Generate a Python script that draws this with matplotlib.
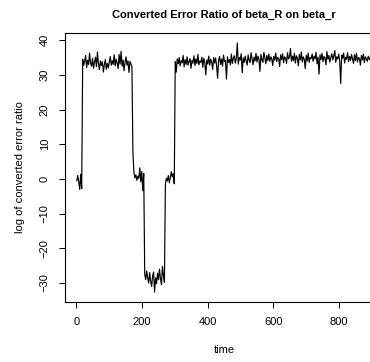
import numpy as np
import matplotlib
matplotlib.use("Agg")
import matplotlib.pyplot as plt

# --- values (one point every 3 time units) ---
seg_start = [-0.5, 1.0, -0.8, -3.0, 1.4, -2.8]

seg_high1 = [34.5, 32.8, 33.9, 35.6, 32.1, 34.2, 33.0, 36.3, 33.4, 32.5,
             34.8, 31.9, 33.6, 35.1, 32.4, 36.6, 33.2, 31.5, 34.0, 32.7,
             33.8, 30.8, 32.9, 34.4, 31.6, 33.3, 32.0, 33.7, 35.3, 32.8,
             34.1, 33.0, 35.8, 32.6, 34.5, 33.4, 31.8, 35.9, 33.1, 36.8,
             32.5, 34.3, 31.2, 33.6, 35.2, 32.8, 34.0, 30.7, 33.9, 33.2,
             32.4]

seg_mid1 = [7.6, 2.0, 0.3, 1.2, -0.4, 0.8, 0.2, 3.2, -0.8, 2.1, -3.4, 1.6]

seg_low = [-27.5, -29.0, -26.5, -28.5, -30.0, -27.0, -29.5, -31.0, -28.0, -26.8,
           -32.6, -28.5, -30.2, -27.2, -29.0, -26.0, -28.8, -30.5, -25.2, -27.8,
           -29.8]

seg_mid2 = [-1.5, 0.2, -0.6, 1.0, -1.1, 0.4, 2.1, 0.6, 1.5, -1.4]

seg_high2 = [
    33.8, 30.8, 34.6, 33.2, 35.0, 32.6, 34.1, 33.5, 35.6, 32.3, 34.4, 33.0, 35.2, 32.8, 33.9, 34.7, 31.9, 34.2, 33.4, 35.5,
    32.7, 34.6, 33.3, 35.9, 32.9, 34.0, 33.6, 35.1, 32.2, 34.8, 33.5, 30.0, 34.3, 33.1, 35.4, 32.8, 34.5, 33.7, 31.6, 35.0,
    33.4, 34.9, 32.6, 29.0, 34.2, 35.3, 33.0, 34.6, 32.5, 35.7, 33.8, 34.1, 28.8, 35.2, 33.6, 34.4, 32.9, 36.0, 33.3, 34.8,
    35.5, 33.4, 34.7, 39.2, 33.1, 35.0, 34.3, 36.1, 30.6, 34.9, 33.6, 35.4, 34.0, 32.8, 35.8, 34.2, 33.5, 36.4, 34.6, 32.9,
    35.1, 34.0, 36.2, 33.7, 35.4, 34.5, 31.0, 35.9, 34.3, 33.6, 36.5, 34.8, 33.2, 35.6, 34.1, 36.0, 33.9, 35.2, 34.6, 32.7,
    35.3, 34.2, 36.3, 33.8, 35.0, 34.7, 32.4, 35.8, 34.4, 36.1, 33.5, 35.2, 34.9, 33.3, 36.4, 34.6, 35.1, 37.6, 33.9, 35.4,
    34.1, 36.2, 33.4, 35.5, 34.8, 32.6, 35.9, 34.3, 36.6, 33.7, 35.2, 34.5, 31.8, 35.7, 34.0, 36.3, 33.6, 35.0, 34.7, 36.0,
    33.9, 35.4, 34.6, 36.5, 33.2, 35.1, 30.2, 35.8, 34.4, 36.2, 33.8, 35.3, 34.9, 32.9, 36.7, 34.5, 35.6, 33.7, 35.0, 36.1,
    34.3, 35.5, 37.0, 33.6, 35.2, 34.6, 36.0, 33.9, 27.5, 35.7, 34.8, 36.3, 33.4, 35.1, 34.5, 36.4, 33.8, 35.3, 34.2, 35.9,
    34.6, 33.3, 35.8, 34.1, 36.2, 33.7, 35.0, 34.8, 32.8, 35.6, 34.3, 36.0, 33.5, 35.2, 34.7, 33.9, 35.4, 34.4, 35.1, 34.6,
]

ratio = np.array(seg_start + seg_high1 + seg_mid1 + seg_low + seg_mid2 + seg_high2)
time = np.arange(len(ratio)) * 3 + 1

title = "Converted Error Ratio of beta_R on beta_r"
xlabel = "time"
ylabel = "log of converted error ratio"
xticks = [0, 200, 400, 600, 800]
yticks = [-30, -20, -10, 0, 10, 20, 30, 40]

plt.rcParams['font.family'] = ['Liberation Sans', 'DejaVu Sans']
plt.rcParams['font.size'] = 8

fig = plt.figure(figsize=(3.70, 3.62), dpi=100)
# plot box runs past the right edge, like the cropped original
ax = fig.add_axes([65 / 370, 60 / 362, 318 / 370, 269 / 362])

ax.plot(time, ratio, color='black', lw=0.85)

# R-style 4% padding
def padded(lo, hi):
    d = (hi - lo) * 0.04
    return lo - d, hi + d

ax.set_xlim(*padded(time.min(), time.max()))
ax.set_ylim(*padded(ratio.min(), ratio.max()))

ax.set_xticks(xticks)
ax.set_yticks(yticks)
ax.set_yticklabels([str(v).replace('-', '\u2212') for v in yticks], rotation=90, va='center')
ax.tick_params(direction='out', length=4, width=0.7, pad=7, color='black')
for s in ax.spines.values():
    s.set_linewidth(0.8)

ax.set_xlabel(xlabel, va='center')
ax.xaxis.set_label_coords(0.5, (302 - 350) / 269)
ax.set_ylabel(ylabel, va='center')
ax.yaxis.set_label_coords((20 - 65) / 318, 0.5)

ax.text(0.5, (302 - 15) / 269, title, transform=ax.transAxes,
        ha='center', va='center', fontweight='bold', fontsize=8)

fig.savefig("out.png", dpi=100)
